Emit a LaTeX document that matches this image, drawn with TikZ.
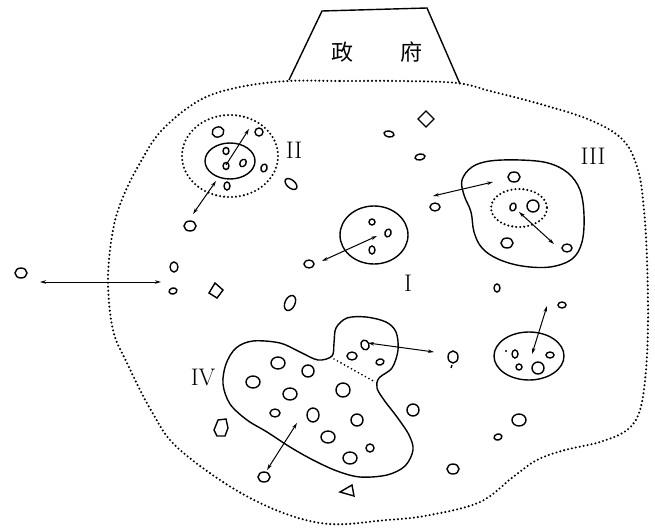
\documentclass[tikz,border=0pt]{standalone}
\usepackage{fontspec}
\newfontfamily\cjk{Noto Sans CJK SC}
\usetikzlibrary{arrows.meta}

\begin{document}
\begin{tikzpicture}[x=1pt,y=-1pt]

	\tikzset{%
		grenze/.style = {line width=2.3pt, dash pattern=on 0pt off 4pt, line cap=round}, % gepunktete Grenze
		gebiet/.style = {line width=1.4pt}, % Gebiet
		punkt/.style  = {line width=1.4pt}, % Einzelner
		pfeil/.style  = {line width=1pt, {Stealth[length=6pt,width=3.5pt]}-{Stealth[length=6pt,width=3.5pt]}},
		nummer/.style = {font=\fontsize{24}{24}\selectfont, inner sep=0pt}
	}

	\useasboundingbox (0,0) rectangle (655,529);

	% Regierung
	\draw[gebiet] (289,80) -- (322,11) -- (427,8) -- (460,84);
	\node[font=\cjk\fontsize{22}{22}\selectfont, inner sep=0pt] (regierung) at (377,52) {政\hspace{47pt}府};

	% Gesellschaft
	\draw[grenze] plot[smooth cycle, tension=0.6] coordinates {(288,81) (340,81) (400,81) (457,83) (490,91) (540,104) (590,120) (623,140) (638,170) (644,210) (647,260) (648,320) (646,370) (640,410) (627,430) (600,442) (565,450) (537,460) (513,477) (480,502) (430,515) (387,520) (320,523) (250,498) (180,450) (152,412) (127,363) (113,330) (108,280) (113,230) (123,197) (140,163) (162,130) (200,100) (240,87)};

	% Gruppe II
	\draw[grenze] (230,156) ellipse [x radius=48, y radius=41];
	\draw[gebiet] (230,161) ellipse [x radius=25, y radius=18];
	\node[nummer] (zwei) at (294,150) {II};

	% Gruppe I
	\draw[gebiet] (374,235) ellipse [x radius=34, y radius=29];
	\node[nummer] (eins) at (408,283) {I};

	% Gruppe III
	\draw[gebiet] plot[smooth cycle, tension=0.6] coordinates {(462,180) (472,167) (490,161) (520,160) (548,163) (568,173) (580,190) (584,215) (582,242) (572,259) (550,267) (522,266) (498,259) (482,248) (474,232) (471,212) (464,195)};
	\draw[grenze] (519,208) ellipse [x radius=28, y radius=19];
	\node[nummer] (drei) at (593,156) {III};

	% Gruppe IV
	\draw[gebiet] plot[smooth cycle, tension=0.55] coordinates {(332,356) (318,360) (300,352) (280,343) (253,341) (236,348) (226,364) (223,384) (230,404) (247,420) (267,432) (290,447) (313,460) (337,471) (360,477) (387,475) (405,466) (413,450) (409,435) (397,417) (384,400) (377,388) (379,378) (392,368) (398,350) (396,332) (386,322) (366,317) (347,318) (336,328) (334,343)};
	\draw[grenze, line width=1.9pt] (334,359) -- (375,382);
	\node[nummer] (vier) at (203,377) {IV};

	% kleine Gruppe rechts
	\draw[gebiet] (529,356) ellipse [x radius=35, y radius=24];

	% Einzelne
	\foreach \x/\y/\a/\b/\w in {%
		218/132/6/5/20, 259/132/4/4/0, 226/151/3/3.5/0, 226/166/3/3.5/0, 243/163/3/4/-30,
		264/168/3/4/-20, 227/186/3/4/0, 291/184/7/4/-40, 190/226/6/5/0,
		389/134/5/3/-10, 420/157/5/3/10,
		514/177/6/5/0, 513/207/3/4/-20, 533/206/6/6/0, 507/243/6/5/0, 567/248/5/4/0, 435/207/5/4/0,
		372/222/3/3/0, 388/233/3/4/-20, 372/250/3/4/0, 309/264/5/4/0, 290/303/5/8/-25,
		21/273/6/5/0, 174/267/4/5/0, 173/291/4/3/15,
		497/288/3/4/0, 562/305/4/3/0, 519/420/7/6/0, 498/437/4/3/15,
		515/354/3/4/0, 550/355/4/3/0, 519/367/3/3/0, 538/368/6/6/0,
		278/363/7/6/0, 308/371/6/6/0, 253/382/7/6/0, 290/394/7/6/0, 343/390/7/7/0,
		275/413/5/4/0, 313/415/6/7/0, 357/420/6/6/0, 328/437/7/6/0, 370/448/4/4/0,
		350/458/7/6/0, 352/356/5/4/0, 365/345/4/5/20, 380/362/4/3/15,
		453/357/5/6/0, 413/410/6/6/0, 453/469/6/5/0, 264/477/6/5/0}
		\draw[punkt, rotate around={\w:(\x,\y)}] (\x,\y) ellipse [x radius=\a, y radius=\b];
	\draw[punkt] (426,111) -- (434,119) -- (426,127) -- (418,119) -- cycle;
	\draw[punkt] (215,283) -- (223,290) -- (217,298) -- (209,293) -- cycle;
	\draw[punkt] (214,430) -- (218,420) -- (226,419) -- (228,428) -- (225,436) -- (217,436) -- cycle;
	\draw[punkt] (340,492) -- (352,485) -- (354,496) -- cycle;
	\draw[punkt] (452,365) -- (451,368);
	\fill (506,351) circle [radius=1.2];

	% Pfeile
	\coordinate (l1) at (40,282);   \coordinate (l2) at (161,282);
	\coordinate (z1) at (226,165);  \coordinate (z2) at (249,129);
	\coordinate (z3) at (216,181);  \coordinate (z4) at (193,214);
	\coordinate (e1) at (322,261);  \coordinate (e2) at (377,236);
	\coordinate (d1) at (433,196);  \coordinate (d2) at (493,182);
	\coordinate (d3) at (519,212);  \coordinate (d4) at (554,244);
	\coordinate (r1) at (532,354);  \coordinate (r2) at (547,306);
	\coordinate (v1) at (297,423);  \coordinate (v2) at (267,470);
	\coordinate (v3) at (368,343);  \coordinate (v4) at (434,352);

	\draw[pfeil] (l1) -- (l2);
	\draw[line width=1pt, -{Stealth[length=6pt,width=3.5pt]}] (z1) -- (z2);
	\draw[pfeil] (z3) -- (z4);
	\draw[pfeil] (e1) -- (e2);
	\draw[pfeil] (d1) -- (d2);
	\draw[pfeil] (d3) -- (d4);
	\draw[pfeil] (r1) -- (r2);
	\draw[pfeil] (v1) -- (v2);
	\draw[pfeil] (v3) -- (v4);
\end{tikzpicture}
\end{document}
